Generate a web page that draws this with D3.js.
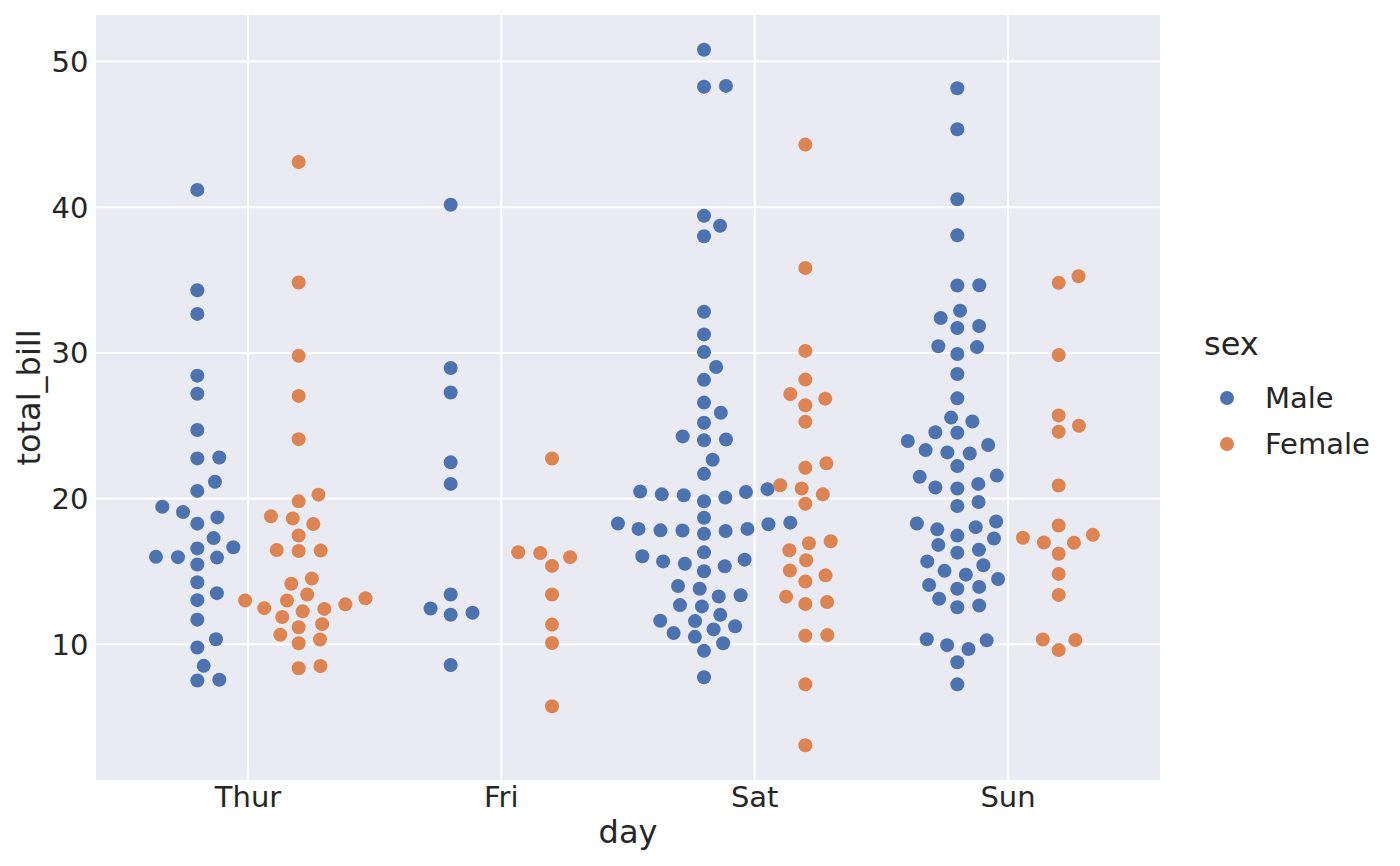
<!DOCTYPE html>
<html>
<head>
<meta charset="utf-8">
<script src="https://cdn.jsdelivr.net/npm/d3@7"></script>
<style>
  html, body { margin: 0; padding: 0; background: #fff; }
  svg { display: block; font-family: "DejaVu Sans", sans-serif; }
  .tick-label { fill: #262626; font-size: 29px; }
  .axis-label { fill: #262626; font-size: 32px; }
</style>
</head>
<body>
<div id="chart"></div>
<script>
// categories
const days = ["Thur", "Fri", "Sat", "Sun"];
const sexes = ["Male", "Female"];
const yTicks = [10, 20, 30, 40, 50];

// total_bill values per day / sex
const thurMale = [27.20, 22.76, 17.29, 19.44, 16.66, 32.68, 15.98, 13.03, 18.28, 24.71,
  21.16, 11.69, 14.26, 15.95, 8.52, 22.82, 19.08, 16.00, 34.30, 41.19,
  9.78, 7.51, 28.44, 15.48, 16.58, 7.56, 10.34, 13.51, 18.71, 20.53];
const thurFemale = [10.07, 34.83, 10.65, 12.43, 24.08, 13.42, 12.48, 29.80, 14.52, 11.38,
  20.27, 11.17, 12.26, 18.26, 8.51, 10.33, 14.15, 13.16, 17.47, 27.05,
  16.43, 8.35, 18.64, 11.87, 19.81, 43.11, 13.00, 12.74, 13.00, 16.40,
  16.47, 18.78];
const friMale = [28.97, 22.49, 40.17, 27.28, 12.03, 21.01, 12.46, 12.16, 8.58, 13.42];
const friFemale = [5.75, 16.32, 22.75, 11.35, 15.38, 13.42, 15.98, 16.27, 10.09];
const satMale = [20.65, 17.92, 39.42, 19.82, 17.81, 13.37, 12.69, 21.70, 9.55, 18.35,
  17.78, 24.06, 16.31, 18.69, 31.27, 16.04, 38.01, 11.24, 48.27, 20.29,
  13.81, 11.02, 18.29, 17.59, 20.08, 20.23, 15.01, 12.02, 10.51, 17.92,
  15.36, 20.49, 25.21, 18.24, 14.00, 50.81, 15.81, 26.59, 38.73, 24.27,
  30.06, 25.89, 48.33, 28.15, 11.59, 7.74, 20.45, 13.28, 24.01, 15.69,
  11.61, 10.77, 15.53, 10.07, 12.60, 32.83, 29.03, 22.67, 17.82];
const satFemale = [20.29, 15.77, 19.65, 15.06, 20.69, 16.93, 26.41, 16.45, 3.07, 17.07,
  26.86, 25.28, 14.73, 44.30, 22.42, 20.92, 14.31, 7.25, 10.59, 10.63,
  12.76, 13.27, 28.17, 12.90, 30.14, 22.12, 35.83, 27.18];
const sunMale = [10.34, 21.01, 23.68, 25.29, 8.77, 26.88, 15.04, 14.78, 10.27, 15.42,
  18.43, 21.58, 16.29, 17.46, 13.94, 9.68, 30.40, 18.29, 22.23, 32.40,
  28.55, 18.04, 12.54, 9.94, 25.56, 19.49, 38.07, 23.95, 29.93, 14.07,
  13.13, 17.26, 24.55, 19.77, 48.17, 16.49, 21.50, 12.66, 13.81, 24.52,
  20.76, 31.71, 7.25, 31.85, 16.82, 32.90, 17.89, 14.48, 34.63, 34.65,
  23.33, 45.35, 23.17, 40.55, 20.69, 30.46, 23.10, 15.69];
const sunFemale = [16.99, 24.59, 35.26, 14.83, 10.33, 16.97, 10.29, 34.81, 25.71, 17.31,
  29.85, 25.00, 13.39, 16.21, 17.51, 9.60, 20.90, 18.15];

const colors = { Male: "#4c72b0", Female: "#dd8452" };

document.addEventListener("DOMContentLoaded", function() {
  const width = 1400, height = 866;
  const plot = { left: 96, right: 1160, top: 15, bottom: 780 };

  const groups = [
    { day: "Thur", sex: "Male", values: thurMale },
    { day: "Thur", sex: "Female", values: thurFemale },
    { day: "Fri", sex: "Male", values: friMale },
    { day: "Fri", sex: "Female", values: friFemale },
    { day: "Sat", sex: "Male", values: satMale },
    { day: "Sat", sex: "Female", values: satFemale },
    { day: "Sun", sex: "Male", values: sunMale },
    { day: "Sun", sex: "Female", values: sunFemale }
  ];

  const svg = d3.select("#chart").append("svg")
    .attr("width", width)
    .attr("height", height);

  // y scale with 5% padding like matplotlib
  const all = groups.flatMap(g => g.values);
  const ext = d3.extent(all);
  const pad = (ext[1] - ext[0]) * 0.05;
  const y = d3.scaleLinear()
    .domain([ext[0] - pad, ext[1] + pad])
    .range([plot.bottom, plot.top]);

  // categorical positions on a linear scale (index units)
  const x = d3.scaleLinear()
    .domain([-0.6, 3.6])
    .range([plot.left, plot.right]);
  const dodge = d3.scalePoint().domain(sexes).range([-0.2, 0.2]);

  // background
  svg.append("rect")
    .attr("x", plot.left).attr("y", plot.top)
    .attr("width", plot.right - plot.left)
    .attr("height", plot.bottom - plot.top)
    .attr("fill", "#eaeaf2");

  // grid lines
  svg.append("g").selectAll("line")
    .data(yTicks).join("line")
    .attr("x1", plot.left).attr("x2", plot.right)
    .attr("y1", d => y(d)).attr("y2", d => y(d))
    .attr("stroke", "#fff").attr("stroke-width", 2);
  svg.append("g").selectAll("line")
    .data(days).join("line")
    .attr("x1", (d, i) => x(i)).attr("x2", (d, i) => x(i))
    .attr("y1", plot.top).attr("y2", plot.bottom)
    .attr("stroke", "#fff").attr("stroke-width", 2);

  // tick labels
  svg.append("g").selectAll("text")
    .data(yTicks).join("text")
    .attr("class", "tick-label")
    .attr("x", 88.5).attr("y", d => y(d))
    .attr("dy", "0.36em")
    .attr("text-anchor", "end")
    .text(d => d);
  svg.append("g").selectAll("text")
    .data(days).join("text")
    .attr("class", "tick-label")
    .attr("x", (d, i) => x(i)).attr("y", 807)
    .attr("text-anchor", "middle")
    .text(d => d);

  // axis labels
  svg.append("text")
    .attr("class", "axis-label")
    .attr("x", (plot.left + plot.right) / 2).attr("y", 842.5)
    .attr("text-anchor", "middle")
    .text("day");
  svg.append("text")
    .attr("class", "axis-label")
    .attr("transform", `translate(39.5,${(plot.top + plot.bottom) / 2}) rotate(-90)`)
    .attr("text-anchor", "middle")
    .text("total_bill");

  // beeswarm (seaborn-style). The layout space is narrower than the
  // final axes by xStretch, so offsets are computed there and scaled up.
  const dotR = 7;
  const swarmR = 7.685;
  const xStretch = 1.363;
  function beeswarm(vals, cx) {
    const pts = vals.map(v => ({ v: v, x: 0, u: -y(v), r: swarmR }))
      .sort((a, b) => a.v - b.v);
    const swarm = [pts[0]];
    for (let k = 1; k < pts.length; k++) {
      const p = pts[k];
      // neighbours that could overlap
      const nb = [];
      for (let j = swarm.length - 1; j >= 0; j--) {
        if (p.u - swarm[j].u < p.r + swarm[j].r) nb.push(swarm[j]);
        else break;
      }
      nb.reverse();
      // candidate positions
      let cands = [0];
      let leftFirst = true;
      nb.forEach(q => {
        const dy = p.u - q.u;
        const dx = Math.sqrt(Math.max((p.r + q.r) ** 2 - dy * dy, 0)) * 1.05;
        const pair = leftFirst ? [q.x + dx, q.x - dx] : [q.x - dx, q.x + dx];
        cands = cands.concat(pair);
        leftFirst = !leftFirst;
      });
      cands = cands.map((c, i) => ({ c, i }))
        .sort((a, b) => (Math.abs(a.c) - Math.abs(b.c)) || (a.i - b.i))
        .map(d => d.c);
      let chosen = cands[0];
      if (nb.length) {
        for (const c of cands) {
          const ok = nb.every(q => (q.x - c) ** 2 + (q.u - p.u) ** 2 >= (q.r + p.r) ** 2 - 1e-9);
          if (ok) { chosen = c; break; }
        }
      }
      p.x = chosen;
      swarm.push(p);
    }
    swarm.forEach(p => { p.px = cx + p.x * xStretch; });
    return swarm;
  }

  groups.forEach(g => {
    const cx = x(days.indexOf(g.day) + dodge(g.sex));
    const pts = beeswarm(g.values, cx);
    svg.append("g").selectAll("circle")
      .data(pts).join("circle")
      .attr("cx", d => d.px)
      .attr("cy", d => y(d.v))
      .attr("r", dotR)
      .attr("fill", colors[g.sex]);
  });

  // legend
  const legend = svg.append("g");
  legend.append("text")
    .attr("class", "axis-label")
    .attr("x", 1204).attr("y", 355)
    .text("sex");
  const items = legend.selectAll("g.item")
    .data(sexes).join("g")
    .attr("transform", (d, i) => `translate(0,${398 + i * 46})`);
  items.append("circle")
    .attr("cx", 1227).attr("cy", 0).attr("r", dotR)
    .attr("fill", d => colors[d]);
  items.append("text")
    .attr("class", "tick-label")
    .attr("x", 1265).attr("dy", "0.36em")
    .text(d => d);
});
</script>
</body>
</html>
